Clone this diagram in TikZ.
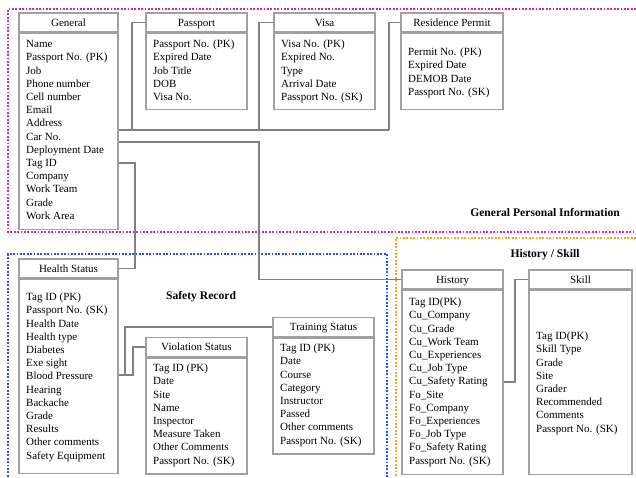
\documentclass[tikz,border=0pt]{standalone}
\usepackage{fontspec}
\setmainfont{Liberation Serif}
\newcommand\fs{\fontsize{11}{13}\selectfont}
\newcommand\lfs{\fontsize{11.6}{13}\selectfont}
\definecolor{boxgray}{HTML}{A0A0A0}
\definecolor{conngray}{HTML}{808080}
\definecolor{pinkdot}{HTML}{E020B0}
\definecolor{bluedot}{HTML}{2850F0}
\definecolor{orangedot}{HTML}{FFA020}
\tikzset{
  hdr/.style={draw=boxgray, line width=1.6pt, inner sep=0pt, font=\fs, text height=7.5pt, text depth=0.5pt, minimum height=19pt},
  bodyb/.style={draw=boxgray, line width=1.6pt, inner sep=0pt, anchor=north},
  fld/.style={anchor=base west, inner sep=0pt, font=\fs},
  conn/.style={draw=conngray, line width=1.4pt},
  region/.style={line width=1.8pt, dash pattern=on 1.8pt off 1.6pt},
  lbl/.style={font=\lfs\bfseries, inner sep=0pt}
}
\newcommand\fieldlist[4]{%
  \foreach \t [count=\i] in {#4} {\node[fld] (#1-\i) at (#2, {#3+3.6+(\i-1)*13.2}) {\t};}}
\begin{document}
\begin{tikzpicture}[x=1pt,y=-1pt]
\useasboundingbox (0,0) rectangle (636,477);
% regions
\draw[region, pinkdot] (636,9) -- (8,9) -- (8,232) -- (636,232);
\draw[region, bluedot] (387,477) -- (387,254) -- (8,254) -- (8,477);
\draw[region, orangedot] (636,238) -- (396,238) -- (396,477);
% labels
\node[lbl] (gpi) at (545,212) {General Personal Information};
\node[lbl] (hsk) at (545,255) {History / Skill};
\node[lbl] (srec) at (201,297) {Safety Record};
% General
\node[hdr, minimum width=99pt] (gen) at (68.5,22.5) {General};
\node[bodyb, minimum width=99pt, minimum height=196pt] (genb) at (gen.south) {};
\fieldlist{gf}{26}{44}{Name,Passport No. (PK),Job,Phone number,Cell number,Email,Address,Car No.,Deployment Date,Tag ID,Company,Work Team,Grade,Work Area}
% Passport
\node[hdr, minimum width=101pt] (pass) at (196.5,22.5) {Passport};
\node[bodyb, minimum width=101pt, minimum height=76pt] (passb) at (pass.south) {};
\fieldlist{pf}{153}{44}{Passport No. (PK),Expired Date,Job Title,DOB,Visa No.}
% Visa
\node[hdr, minimum width=101pt] (visa) at (324.5,22.5) {Visa};
\node[bodyb, minimum width=101pt, minimum height=76pt] (visab) at (visa.south) {};
\fieldlist{vf}{281}{44}{Visa No. (PK),Expired No.,Type,Arrival Date,Passport No. (SK)}
% Residence Permit
\node[hdr, minimum width=102pt] (res) at (452,22.5) {Residence Permit};
\node[bodyb, minimum width=102pt, minimum height=76pt] (resb) at (res.south) {};
\fieldlist{rf}{408}{52}{Permit No. (PK),Expired Date,DEMOB Date,Passport No. (SK)}
% Health Status
\node[hdr, minimum width=99pt] (hs) at (68.5,268.5) {Health Status};
\node[bodyb, minimum width=99pt, minimum height=194pt] (hsb) at (hs.south) {};
\fieldlist{hf}{26}{297}{Tag ID (PK),Passport No. (SK),Health Date,Health type,Diabetes,Exe sight,Blood Pressure,Hearing,Backache,Grade,Results,Other comments,Safety Equipment}
% Violation Status
\node[hdr, minimum width=101pt] (viol) at (196.5,347) {Violation Status};
\node[bodyb, minimum width=101pt, minimum height=116pt] (violb) at (viol.south) {};
\fieldlist{vsf}{153}{368}{Tag ID (PK),Date,Site,Name,Inspector,Measure Taken,Other Comments,Passport No. (SK)}
% Training Status
\node[hdr, minimum width=101pt] (train) at (323.5,327) {Training Status};
\node[bodyb, minimum width=101pt, minimum height=116pt] (trainb) at (train.south) {};
\fieldlist{tf}{280}{348}{Tag ID (PK),Date,Course,Category,Instructor,Passed,Other comments,Passport No. (SK)}
% History
\node[hdr, minimum width=101pt] (hist) at (452.5,279.5) {History};
\node[bodyb, minimum width=101pt, minimum height=184pt] (histb) at (hist.south) {};
\fieldlist{hif}{409}{302}{Tag ID(PK),Cu\_Company,Cu\_Grade,Cu\_Work Team,Cu\_Experiences,Cu\_Job Type,Cu\_Safety Rating,Fo\_Site,Fo\_Company,Fo\_Experiences,Fo\_Job Type,Fo\_Safety Rating,Passport No. (SK)}
% Skill
\node[hdr, minimum width=103pt] (skill) at (580.5,279.5) {Skill};
\node[bodyb, minimum width=103pt, minimum height=184pt] (skillb) at (skill.south) {};
\fieldlist{sf}{536}{336}{Tag ID(PK),Skill Type,Grade,Site,Grader,Recommended,Comments,Passport No. (SK)}
% connectors
\coordinate (j1) at (132,130);
\coordinate (j2) at (259,130);
\coordinate (j3) at (389,130);
\draw[conn] (genb.east |- j1) -- (j3);
\draw[conn] (j1) |- (pass.west);
\draw[conn] (j2) |- (visa.west);
\draw[conn] (j3) |- (res.west);
\coordinate (k1) at (259,142);
\draw[conn] (genb.east |- k1) -- (k1) |- (hist.west);
\coordinate (t1) at (135,163);
\draw[conn] (genb.east |- t1) -- (t1) |- (hs.east);
\coordinate (h1) at (133,375);
\coordinate (h2) at (125,375);
\draw[conn] (hsb.east |- h1) -- (h1) |- (viol.west);
\draw[conn] (h2) |- (train.west);
\coordinate (s1) at (515,382);
\draw[conn] (histb.east |- s1) -- (s1) |- (skill.west);
\end{tikzpicture}
\end{document}
